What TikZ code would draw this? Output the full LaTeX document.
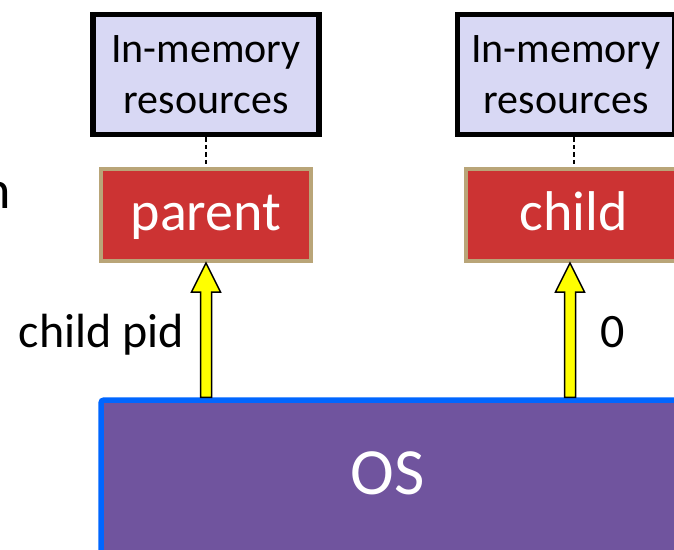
\documentclass[tikz,border=0pt]{standalone}
\usepackage{fontspec}
\setmainfont{Carlito}
\usetikzlibrary{calc}
\definecolor{memfill}{RGB}{216,216,244}
\definecolor{procred}{RGB}{204,51,51}
\definecolor{proctan}{RGB}{185,165,120}
\definecolor{osfill}{RGB}{112,84,158}
\definecolor{osblue}{RGB}{0,102,255}
\definecolor{arrowyellow}{RGB}{255,255,0}

\begin{document}
\begin{tikzpicture}[x=1pt,y=-1pt,
  membox/.style={draw=black, line width=5.5pt, fill=memfill, minimum height=120pt,
    align=center, inner sep=0pt, font=\fontsize{42}{51}\selectfont},
  procbox/.style={draw=proctan, line width=4pt, fill=procred, text=white,
    minimum height=92pt, inner sep=0pt, text height=42pt, text depth=12pt,
    font=\fontsize{56}{60}\selectfont},
  osbox/.style={draw=osblue, line width=5.5pt, fill=osfill, rounded corners=3pt,
    minimum width=580pt, minimum height=174pt, inner sep=0pt},
  ostext/.style={text=white, inner sep=0pt, font=\fontsize{66}{70}\selectfont},
  link/.style={line width=1.6pt, dash pattern=on 4.5pt off 3pt},
  fatarrow/.style={draw=black, line width=1.5pt, fill=arrowyellow, line join=miter},
  lbl/.style={inner sep=0pt, font=\fontsize{48}{50}\selectfont}
]
\path[use as bounding box] (0,0) rectangle (674,549);
\clip (0,0) rectangle (674,549);

% per-process memory
\node[membox, minimum width=226pt] (memP) at (206,74.5) {In-memory\\resources};
\node[membox, minimum width=217pt] (memC) at (566,74.5) {In-memory\\resources};

% processes
\node[procbox, minimum width=210pt] (parent) at (206,215) {parent};
\node[procbox, minimum width=216pt] (child) at (574,215) {child};

\draw[link] (memP.south) -- (parent.north);
\draw[link] (child.north |- memC.south) -- (child.north);

% kernel
\node[osbox] (os) at (391,487) {};
\node[ostext] (oslabel) at (388,473) {OS};

% return values
\coordinate (tipP) at (parent.south);
\coordinate (baseP) at (parent.south |- os.north);
\coordinate (tipC) at ($(child.south)+(-4,0)$);
\coordinate (baseC) at (tipC |- os.north);
\foreach \t/\b in {tipP/baseP, tipC/baseC}{
  \draw[fatarrow] (\t) -- ($(\t)+(14.5,29)$) -- ($(\t)+(5.5,29)$) -- ($(\b)+(5.5,0)$)
    -- ($(\b)+(-5.5,0)$) -- ($(\t)+(-5.5,29)$) -- ($(\t)+(-14.5,29)$) -- cycle;
}

\node[lbl, anchor=base west] (pidlbl) at (18.5,347) {child pid};
\node[lbl, anchor=base west] (zerolbl) at (600,347) {0};
\node[inner sep=0pt, anchor=base east, font=\fontsize{54}{58}\selectfont] (edge) at (11,208) {n};
\end{tikzpicture}
\end{document}
